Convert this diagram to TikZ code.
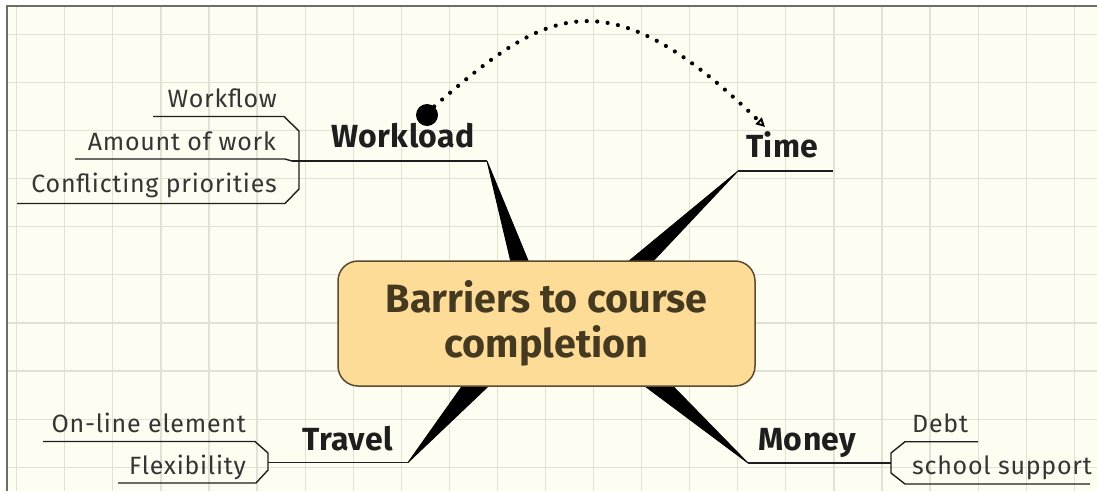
\documentclass[tikz,border=0pt]{standalone}
\usepackage{fontspec}
\setmainfont{Fira Sans}
\newfontfamily\subfont[LetterSpace=3]{Fira Sans}
\newfontfamily\topicfont[LetterSpace=1.5]{Fira Sans}
\usetikzlibrary{arrows.meta}
\definecolor{bg}{HTML}{FDFEF1}
\definecolor{gridc}{HTML}{E0E2D3}
\definecolor{framec}{HTML}{6E6E66}
\definecolor{boxfill}{HTML}{FDDC98}
\definecolor{boxdraw}{HTML}{5A4A30}
\definecolor{boxtext}{HTML}{45391F}
\definecolor{ink}{HTML}{1E1E1E}
\begin{document}
\begin{tikzpicture}[x=1pt,y=-1pt,
  topic/.style={font=\topicfont\fontsize{32}{36}\selectfont\bfseries, text=ink, inner sep=0pt},
  sub/.style={font=\subfont\fontsize{25}{28}\selectfont, text=ink!90, inner sep=0pt},
  branch/.style={line width=1.4pt, draw=ink},
  spoke/.style={fill=black, draw=black, line width=0.8pt, line join=round},
  dots/.style={line width=4.2pt, line cap=round, dash pattern=on 0pt off 10.5pt},
  centerbox/.style={draw=boxdraw, fill=boxfill, rounded corners=20pt, line width=1.5pt,
    minimum width=417pt, minimum height=125pt, align=center, text=boxtext,
    font=\fontsize{39.5}{45}\selectfont\bfseries}]
\useasboundingbox (0,0) rectangle (1097,491);
\fill[white] (0,0) rectangle (1097,491);
\fill[bg] (7,6) rectangle (1097,491);
% grid
\foreach \i in {0,...,22} \draw[gridc, line width=1.2pt] ({16.7+48.07*\i},6) -- ({16.7+48.07*\i},491);
\foreach \j in {0,...,9} \draw[gridc, line width=1.2pt] (7,{34.3+48.1*\j}) -- (1097,{34.3+48.1*\j});
% frame
\draw[framec, line width=2pt] (7,491) -- (7,6) -- (1097,6);

% coordinates of branch ends
\coordinate (wk) at (487,161);
\coordinate (tm) at (738,171);
\coordinate (tr) at (408,462.5);
\coordinate (mo) at (748,463);

% spokes
\filldraw[spoke] (wk) -- (514,275) -- (534,275) -- cycle;
\filldraw[spoke] (tm) -- (612,275) -- (640,275) -- cycle;
\filldraw[spoke] (tr) -- (470,375) -- (500,375) -- cycle;
\filldraw[spoke] (mo) -- (630,375) -- (662,375) -- cycle;

% center
\node[centerbox] (c) at (546.5,323.5) {Barriers to course\\completion};

% topics
\node[topic, anchor=base west] (workload) at (331,147) {Workload};
\node[topic, anchor=base west] (time) at (746,157) {Time};
\node[topic, anchor=base west] (travel) at (302,450) {Travel};
\node[topic, anchor=base west] (money) at (758,450) {Money};

% sub topics
\node[sub, anchor=base east] (workflow) at (277,107) {Workflow};
\node[sub, anchor=base east] (amount) at (276,150) {Amount of work};
\node[sub, anchor=base east] (conflict) at (277,192) {Conflicting priorities};
\node[sub, anchor=base east] (online) at (246,432) {On-line element};
\node[sub, anchor=base east] (flex) at (246,474) {Flexibility};
\node[sub, anchor=base west] (debt) at (912,432) {Debt};
\node[sub, anchor=base west] (school) at (912,474) {school support};

% branch lines
\draw[branch] (292,161) -- (wk);
\draw[branch] (tm) -- (833,171);
\draw[branch] (268,462.5) -- (tr);
\draw[branch] (mo) -- (891,463);

% brackets and underlines
\draw[branch] (153,116.5) -- (284,116.5) -- (299,131) -- (299,189) -- (285,203.5) -- (17,203.5);
\draw[branch] (75,159) -- (285,159) -- (292,161);
\draw[branch] (43,441.5) -- (255,441.5) -- (268,453) -- (268,470) -- (256,483) -- (118,483);
\draw[branch] (978,441.7) -- (905,441.7) -- (891,453) -- (891,473) -- (905,484) -- (1090,484);

% dotted relation
\node[circle, fill=black, minimum size=22pt, inner sep=0pt] (dot) at (427,115) {};
\coordinate (tend) at (765,127);
\draw[dots, -{Triangle[open, length=9pt, width=9pt, line width=2pt]}]
  (dot.50) .. controls (545,10) and (605,-29) .. (tend);
\end{tikzpicture}
\end{document}
